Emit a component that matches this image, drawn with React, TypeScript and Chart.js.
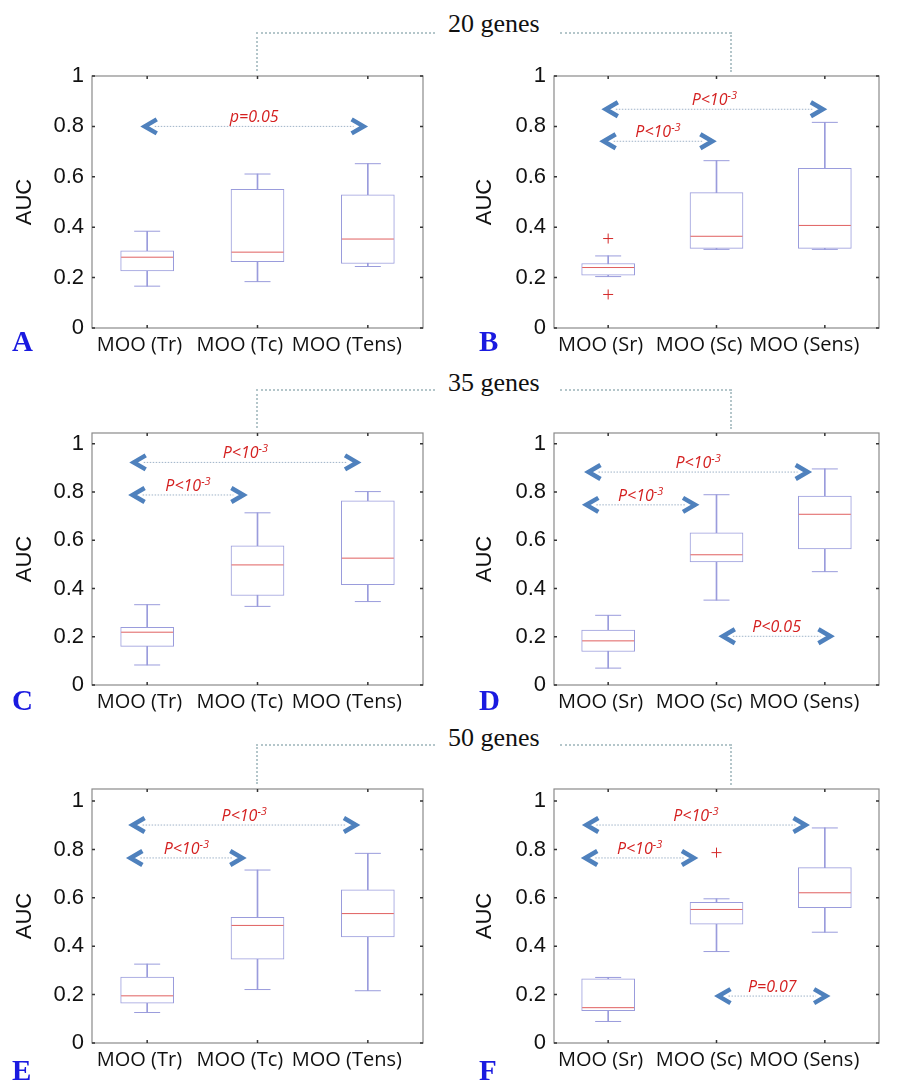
import React, { useEffect, useRef } from 'react';
import { Chart, registerables } from 'chart.js';
Chart.register(...registerables);

// ---------- data ----------
const labelsT = ['MOO (Tr)', 'MOO (Tc)', 'MOO (Tens)'];
const labelsS = ['MOO (Sr)', 'MOO (Sc)', 'MOO (Sens)'];
const yTickValues = [0, 0.2, 0.4, 0.6, 0.8, 1];
// label centre positions (category index units) as printed under the axes
const xLabelPos = [-0.07, 0.84, 1.81];

// box stats per category: [min, q1, median, q3, max]
const boxA = [[0.166, 0.227, 0.281, 0.306, 0.384], [0.184, 0.263, 0.301, 0.550, 0.611], [0.244, 0.256, 0.353, 0.528, 0.652]];
const boxB = [[0.204, 0.210, 0.240, 0.256, 0.286], [0.312, 0.316, 0.364, 0.537, 0.664], [0.312, 0.316, 0.407, 0.634, 0.816]];
const boxC = [[0.083, 0.160, 0.219, 0.239, 0.333], [0.326, 0.371, 0.498, 0.577, 0.714], [0.346, 0.416, 0.526, 0.764, 0.802]];
const boxD = [[0.070, 0.139, 0.183, 0.228, 0.289], [0.352, 0.510, 0.540, 0.631, 0.789], [0.470, 0.564, 0.708, 0.783, 0.896]];
const boxE = [[0.126, 0.165, 0.195, 0.272, 0.326], [0.221, 0.347, 0.486, 0.520, 0.715], [0.216, 0.439, 0.535, 0.633, 0.784]];
const boxF = [[0.089, 0.134, 0.146, 0.265, 0.271], [0.378, 0.491, 0.552, 0.582, 0.596], [0.458, 0.559, 0.621, 0.725, 0.889]];

// outliers: [category index, value]
const outB = [[0, 0.355], [0, 0.133]];
const outF = [[1, 0.787]];

// significance arrows: [x tip left, x tip right (category units), y, text, superscript]
const arrA = [[-0.04, 1.98, 0.80, 'p=0.05', '']];
const arrB = [[-0.04, 2.0, 0.868, 'P<10', '-3'], [-0.06, 0.98, 0.741, 'P<10', '-3']];
const arrC = [[-0.14, 1.92, 0.923, 'P<10', '-3'], [-0.15, 0.89, 0.788, 'P<10', '-3']];
const arrD = [[-0.20, 1.86, 0.883, 'P<10', '-3'], [-0.22, 0.82, 0.747, 'P<10', '-3'], [1.04, 2.07, 0.202, 'P<0.05', '']];
const arrE = [[-0.15, 1.91, 0.901, 'P<10', '-3'], [-0.17, 0.88, 0.765, 'P<10', '-3']];
const arrF = [[-0.22, 1.84, 0.901, 'P<10', '-3'], [-0.23, 0.81, 0.765, 'P<10', '-3'], [1.0, 2.03, 0.194, 'P=0.07', '']];

const groupTitles = ['20 genes', '35 genes', '50 genes'];
const panelLetters = ['A', 'B', 'C', 'D', 'E', 'F'];

// ---------- layout ----------
const ROWS = [
  { plotTop: 73, plotBottom: 328, yMax: 1.0, headY: 32, headTop: 11, letterTop: 327 },
  { plotTop: 430, plotBottom: 685, yMax: 1.045, headY: 389, headTop: 370, letterTop: 686 },
  { plotTop: 786, plotBottom: 1043, yMax: 1.05, headY: 744, headTop: 725, letterTop: 1056 },
];
const COLS = [
  { left: 0, width: 450, plotLeft: 92, plotRight: 443, titleX: 25, letterX: 12 },
  { left: 450, width: 456, plotLeft: 554, plotRight: 903, titleX: 485, letterX: 479 },
];

const BOX = '#9a9cdc';
const MED = '#e06060';
const OUT = '#d42a2a';
const ARROW = '#4f81bd';
const PTEXT = '#d42020';

const annotPlugin = {
  id: 'annot',
  afterDatasetsDraw(chart: any, _args: any, opts: any) {
    const { ctx, chartArea } = chart;
    const xs = chart.scales.x;
    const ys = chart.scales.y;
    const { left, right, top, bottom } = chartArea;
    ctx.save();
    // frame
    ctx.strokeStyle = '#8a8a8a';
    ctx.lineWidth = 1.2;
    ctx.strokeRect(left, top, right - left, bottom - top);
    // inward ticks
    ctx.strokeStyle = '#333';
    ctx.lineWidth = 1.5;
    ctx.beginPath();
    yTickValues.forEach((v) => {
      const y = ys.getPixelForValue(v);
      ctx.moveTo(left, y); ctx.lineTo(left + 3, y);
      ctx.moveTo(right, y); ctx.lineTo(right - 3, y);
    });
    [0, 1, 2].forEach((i) => {
      const x = xs.getPixelForValue(i);
      ctx.moveTo(x, top); ctx.lineTo(x, top + 3);
      ctx.moveTo(x, bottom); ctx.lineTo(x, bottom - 3);
    });
    ctx.stroke();
    // arrows
    (opts.arrows || []).forEach((a: any) => {
      const x1 = xs.getPixelForValue(a[0]);
      const x2 = xs.getPixelForValue(a[1]);
      const y = ys.getPixelForValue(a[2]);
      const dx = 12, dy = 7;
      ctx.setLineDash([1.5, 1.5]);
      ctx.strokeStyle = '#9fb3c8';
      ctx.lineWidth = 1;
      ctx.beginPath();
      ctx.moveTo(x1 + dx, y); ctx.lineTo(x2 - dx, y);
      ctx.stroke();
      ctx.setLineDash([]);
      ctx.strokeStyle = ARROW;
      ctx.lineWidth = 4.5;
      ctx.lineJoin = 'miter';
      ctx.lineCap = 'butt';
      ctx.beginPath();
      ctx.moveTo(x1 + 2 + dx, y - dy); ctx.lineTo(x1 + 2, y); ctx.lineTo(x1 + 2 + dx, y + dy);
      ctx.moveTo(x2 - 2 - dx, y - dy); ctx.lineTo(x2 - 2, y); ctx.lineTo(x2 - 2 - dx, y + dy);
      ctx.stroke();
      // text
      const mainFont = 'italic 16px "Open Sans"';
      const supFont = 'italic 11px "Open Sans"';
      ctx.font = mainFont;
      const w1 = ctx.measureText(a[3]).width;
      ctx.font = supFont;
      const w2 = a[4] ? ctx.measureText(a[4]).width : 0;
      const mid = (x1 + x2) / 2;
      const sx = mid - (w1 + w2) / 2;
      const base = y - 4;
      ctx.fillStyle = PTEXT;
      ctx.textBaseline = 'alphabetic';
      ctx.textAlign = 'left';
      ctx.font = mainFont;
      ctx.fillText(a[3], sx, base);
      if (a[4]) {
        ctx.font = supFont;
        ctx.fillText(a[4], sx + w1, base - 6);
      }
    });
    ctx.restore();
  },
};

function Panel(props: { row: number; col: number; labels: string[]; boxes: number[][]; outliers: number[][]; arrows: any[] }) {
  const { row, col, labels, boxes, outliers, arrows } = props;
  const ref = useRef<HTMLCanvasElement>(null);
  const R = ROWS[row];
  const C = COLS[col];
  const top = R.plotTop - 24;
  const height = R.plotBottom + 34 - top;

  useEffect(() => {
    if (!ref.current) return;
    const chart = new Chart(ref.current, {
      type: 'bar',
      data: {
        labels,
        datasets: [
          {
            type: 'bar', xAxisID: 'x', yAxisID: 'y',
            data: boxes.map((b) => [b[0], b[4]]),
            barThickness: 1, backgroundColor: BOX, borderWidth: 0, grouped: false, order: 3,
          } as any,
          {
            type: 'bar', xAxisID: 'x', yAxisID: 'y',
            data: boxes.map((b) => [b[1], b[3]]),
            barThickness: 53, backgroundColor: '#ffffff', borderColor: BOX, borderWidth: 1,
            borderSkipped: false, grouped: false, order: 2,
          } as any,
          {
            type: 'scatter', xAxisID: 'x', yAxisID: 'y',
            data: boxes.flatMap((b, i) => [{ x: labels[i], y: b[0] }, { x: labels[i], y: b[4] }]),
            pointStyle: 'line', pointRadius: 13, pointBorderColor: BOX, borderColor: BOX, pointBorderWidth: 1, order: 1,
          } as any,
          {
            type: 'scatter', xAxisID: 'x', yAxisID: 'y',
            data: boxes.map((b, i) => ({ x: labels[i], y: b[2] })),
            pointStyle: 'line', pointRadius: 26, pointBorderColor: MED, borderColor: MED, pointBorderWidth: 1, order: 0,
          } as any,
          {
            type: 'scatter', xAxisID: 'x', yAxisID: 'y',
            data: outliers.map((o) => ({ x: labels[o[0]], y: o[1] })),
            pointStyle: 'cross', pointRadius: 5, pointBorderColor: OUT, borderColor: OUT, pointBorderWidth: 1, order: 0,
          } as any,
        ],
      },
      options: {
        responsive: false,
        animation: false,
        events: [],
        layout: { padding: { top: 24, left: 0, bottom: 0, right: C.left + C.width - C.plotRight } },
        plugins: {
          legend: { display: false },
          tooltip: { enabled: false },
          annot: { arrows },
        } as any,
        scales: {
          x: { type: 'category', display: false, offset: true },
          x2: {
            type: 'linear', position: 'bottom', min: -0.5, max: 2.5, offset: false,
            grid: { display: false, drawTicks: false, offset: false }, border: { display: false },
            afterBuildTicks: (s: any) => { s.ticks = xLabelPos.map((v) => ({ value: v })); },
            ticks: {
              autoSkip: false, maxRotation: 0, minRotation: 0, padding: 5, color: '#111',
              font: { family: 'Open Sans', size: 20 },
              callback: (_v: any, i: number) => labels[i],
            },
            afterFit: (s: any) => { s.height = 34; s.paddingLeft = 0; s.paddingRight = 0; },
          } as any,
          y: {
            type: 'linear', min: 0, max: R.yMax,
            grid: { display: false, drawTicks: false }, border: { display: false },
            afterBuildTicks: (s: any) => { s.ticks = yTickValues.map((v) => ({ value: v })); },
            ticks: {
              padding: 8, color: '#111', font: { family: 'Liberation Sans', size: 22 },
              callback: (v: any) => String(Math.round(Number(v) * 10) / 10),
            },
            title: {
              display: true, text: 'AUC', color: '#111',
              font: { family: 'Liberation Sans', size: 22 },
              padding: { top: C.titleX - C.left - 13.2, bottom: 0 },
            },
            afterFit: (s: any) => { s.width = C.plotLeft - C.left; s.paddingTop = 0; s.paddingBottom = 0; },
          } as any,
        },
      } as any,
      plugins: [annotPlugin],
    });
    return () => chart.destroy();
  }, []);

  return (
    <canvas
      ref={ref}
      width={C.width}
      height={height}
      style={{ position: 'absolute', left: C.left, top, width: C.width, height }}
    />
  );
}

const dotted = '2px dotted #b4c6ca';

function Connector({ row }: { row: number }) {
  const R = ROWS[row];
  const hy = R.headY;
  return (
    <>
      <div style={{ position: 'absolute', left: 256, top: hy, width: 179, height: 0, borderTop: dotted }} />
      <div style={{ position: 'absolute', left: 256, top: hy, width: 0, height: R.plotTop - hy - 2, borderLeft: dotted }} />
      <div style={{ position: 'absolute', left: 560, top: hy, width: 171, height: 0, borderTop: dotted }} />
      <div style={{ position: 'absolute', left: 730, top: hy, width: 0, height: R.plotTop - hy - 1, borderLeft: dotted }} />
      <div
        style={{
          position: 'absolute', left: 448, top: R.headTop, fontFamily: '"Liberation Serif", serif',
          fontSize: 26, lineHeight: '26px', color: '#111', whiteSpace: 'nowrap',
        }}
      >
        {groupTitles[row]}
      </div>
    </>
  );
}

function Letter({ idx }: { idx: number }) {
  const row = Math.floor(idx / 2);
  const col = idx % 2;
  return (
    <div
      style={{
        position: 'absolute', left: COLS[col].letterX, top: ROWS[row].letterTop,
        fontFamily: '"Liberation Serif", serif', fontWeight: 'bold', fontSize: 29,
        lineHeight: '29px', color: '#1a1ae0',
      }}
    >
      {panelLetters[idx]}
    </div>
  );
}

export default function App() {
  return (
    <div style={{ position: 'absolute', left: 0, top: 0, width: 900, height: 1082, overflow: 'hidden', background: '#fff' }}>
      <Panel row={0} col={0} labels={labelsT} boxes={boxA} outliers={[]} arrows={arrA} />
      <Panel row={0} col={1} labels={labelsS} boxes={boxB} outliers={outB} arrows={arrB} />
      <Panel row={1} col={0} labels={labelsT} boxes={boxC} outliers={[]} arrows={arrC} />
      <Panel row={1} col={1} labels={labelsS} boxes={boxD} outliers={[]} arrows={arrD} />
      <Panel row={2} col={0} labels={labelsT} boxes={boxE} outliers={[]} arrows={arrE} />
      <Panel row={2} col={1} labels={labelsS} boxes={boxF} outliers={outF} arrows={arrF} />
      {[0, 1, 2].map((r) => <Connector key={r} row={r} />)}
      {[0, 1, 2, 3, 4, 5].map((i) => <Letter key={i} idx={i} />)}
    </div>
  );
}
